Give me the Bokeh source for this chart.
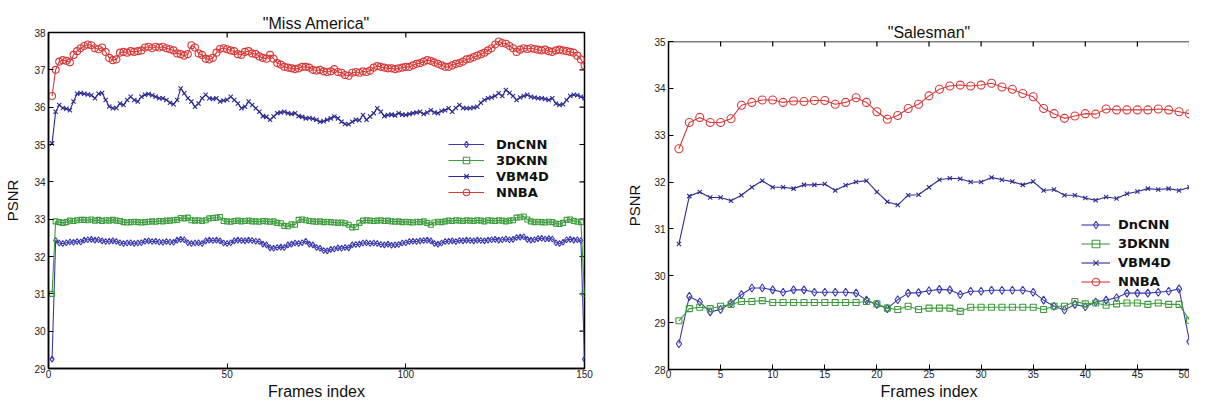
import math
from bokeh.plotting import figure
from bokeh.models import Range1d, FixedTicker, Legend, LegendItem, Span, Spacer, Title
from bokeh.layouts import row, column
from bokeh.embed import file_html
from bokeh.resources import INLINE

# ---------------- data: "Miss America" ----------------
ma_frames = list(range(1, 151))
ma_dncnn = [29.25, 32.43, 32.36, 32.35, 32.37, 32.39, 32.38, 32.40, 32.39, 32.44,
            32.45, 32.46, 32.44, 32.45, 32.42, 32.40, 32.41, 32.42, 32.40, 32.37,
            32.35, 32.36, 32.37, 32.35, 32.36, 32.37, 32.41, 32.42, 32.40, 32.41,
            32.39, 32.38, 32.40, 32.39, 32.38, 32.44, 32.46, 32.45, 32.37, 32.35,
            32.36, 32.37, 32.35, 32.42, 32.44, 32.43, 32.44, 32.42, 32.36, 32.35,
            32.37, 32.42, 32.44, 32.43, 32.42, 32.44, 32.43, 32.41, 32.40, 32.33,
            32.31, 32.23, 32.22, 32.24, 32.25, 32.24, 32.31, 32.33, 32.36, 32.35,
            32.37, 32.41, 32.33, 32.31, 32.24, 32.22, 32.16, 32.15, 32.19, 32.20,
            32.23, 32.22, 32.24, 32.23, 32.31, 32.32, 32.33, 32.36, 32.37, 32.35,
            32.36, 32.35, 32.32, 32.31, 32.33, 32.30, 32.31, 32.32, 32.36, 32.37,
            32.40, 32.41, 32.40, 32.42, 32.43, 32.44, 32.42, 32.35, 32.33, 32.36,
            32.40, 32.41, 32.42, 32.40, 32.43, 32.42, 32.44, 32.43, 32.42, 32.44,
            32.43, 32.42, 32.44, 32.45, 32.46, 32.44, 32.45, 32.47, 32.45, 32.46,
            32.51, 32.52, 32.53, 32.46, 32.44, 32.45, 32.48, 32.49, 32.47, 32.48,
            32.47, 32.37, 32.35, 32.38, 32.45, 32.46, 32.44, 32.45, 32.43, 29.25]
ma_3dknn = [31.00, 32.94, 32.92, 32.90, 32.92, 32.96, 32.95, 32.97, 32.98, 32.98,
            32.97, 32.99, 32.96, 32.98, 32.95, 32.97, 32.96, 32.98, 32.96, 32.95,
            32.92, 32.91, 32.92, 32.93, 32.92, 32.91, 32.92, 32.93, 32.94, 32.93,
            32.95, 32.94, 32.96, 32.96, 32.97, 32.98, 33.03, 33.02, 33.04, 32.97,
            32.96, 32.97, 32.95, 32.97, 33.02, 33.03, 33.04, 33.06, 32.95, 32.94,
            32.93, 32.95, 32.96, 32.94, 32.95, 32.96, 32.94, 32.94, 32.93, 32.95,
            32.94, 32.93, 32.94, 32.90, 32.89, 32.82, 32.81, 32.86, 32.85, 32.98,
            32.99, 32.97, 32.95, 32.94, 32.93, 32.94, 32.92, 32.93, 32.92, 32.91,
            32.90, 32.91, 32.89, 32.85, 32.78, 32.79, 32.90, 32.96, 32.97, 32.96,
            32.95, 32.96, 32.97, 32.95, 32.96, 32.94, 32.93, 32.94, 32.92, 32.93,
            32.92, 32.91, 32.93, 32.92, 32.94, 32.90, 32.85, 32.91, 32.93, 32.92,
            32.94, 32.96, 32.95, 32.97, 32.96, 32.95, 32.97, 32.96, 32.95, 32.97,
            32.96, 32.94, 32.97, 32.96, 32.95, 32.97, 32.96, 32.94, 32.96, 32.97,
            33.04, 33.05, 33.07, 32.99, 32.94, 32.92, 32.93, 32.92, 32.91, 32.93,
            32.92, 32.88, 32.87, 32.90, 32.98, 32.99, 32.95, 32.93, 32.92, 31.00]
ma_vbm4d = [35.03, 35.88, 36.06, 35.98, 35.96, 35.92, 36.15, 36.36, 36.38, 36.36,
            36.34, 36.32, 36.24, 36.36, 36.38, 36.19, 36.02, 35.97, 35.98, 36.10,
            36.06, 36.19, 36.28, 36.19, 36.15, 36.28, 36.33, 36.35, 36.32, 36.28,
            36.24, 36.24, 36.19, 36.12, 36.08, 36.19, 36.50, 36.37, 36.24, 36.15,
            36.01, 36.10, 36.24, 36.33, 36.24, 36.22, 36.24, 36.15, 36.18, 36.20,
            36.28, 36.19, 36.10, 35.97, 36.01, 36.15, 36.06, 35.97, 35.88, 35.76,
            35.74, 35.66, 35.75, 35.84, 35.86, 35.88, 35.84, 35.82, 35.84, 35.76,
            35.74, 35.70, 35.71, 35.69, 35.66, 35.61, 35.62, 35.66, 35.70, 35.75,
            35.70, 35.61, 35.55, 35.54, 35.61, 35.66, 35.65, 35.79, 35.66, 35.75,
            35.84, 35.97, 35.88, 35.76, 35.79, 35.80, 35.78, 35.84, 35.80, 35.79,
            35.82, 35.84, 35.86, 35.88, 35.82, 35.86, 35.92, 35.86, 35.84, 35.90,
            35.92, 35.97, 35.88, 35.98, 36.06, 35.98, 35.97, 35.97, 35.99, 36.01,
            36.12, 36.19, 36.24, 36.26, 36.30, 36.37, 36.30, 36.46, 36.38, 36.30,
            36.19, 36.26, 36.30, 36.33, 36.28, 36.26, 36.24, 36.24, 36.22, 36.19,
            36.24, 36.10, 36.06, 36.08, 36.19, 36.30, 36.33, 36.32, 36.28, 36.24]
ma_nnba = [36.30, 37.00, 37.22, 37.26, 37.24, 37.20, 37.40, 37.50, 37.58, 37.64,
           37.68, 37.66, 37.58, 37.55, 37.60, 37.48, 37.32, 37.26, 37.28, 37.46,
           37.48, 37.46, 37.50, 37.48, 37.50, 37.52, 37.60, 37.62, 37.58, 37.62,
           37.60, 37.62, 37.58, 37.55, 37.52, 37.44, 37.42, 37.38, 37.42, 37.66,
           37.60, 37.44, 37.40, 37.30, 37.28, 37.32, 37.46, 37.56, 37.58, 37.55,
           37.52, 37.50, 37.42, 37.40, 37.48, 37.50, 37.44, 37.42, 37.36, 37.32,
           37.30, 37.40, 37.30, 37.18, 37.14, 37.08, 37.06, 37.04, 37.02, 37.04,
           37.08, 37.08, 37.06, 37.00, 36.98, 37.00, 36.96, 36.94, 36.96, 37.02,
           36.94, 36.92, 36.86, 36.84, 36.92, 36.94, 36.92, 36.96, 36.94, 36.98,
           37.06, 37.10, 37.08, 37.06, 37.04, 37.04, 37.02, 37.04, 37.06, 37.08,
           37.08, 37.12, 37.16, 37.18, 37.22, 37.26, 37.24, 37.20, 37.16, 37.12,
           37.08, 37.08, 37.12, 37.16, 37.18, 37.22, 37.28, 37.30, 37.34, 37.38,
           37.42, 37.46, 37.52, 37.58, 37.68, 37.76, 37.72, 37.70, 37.64, 37.58,
           37.48, 37.54, 37.58, 37.56, 37.58, 37.56, 37.54, 37.52, 37.54, 37.50,
           37.48, 37.52, 37.54, 37.52, 37.50, 37.48, 37.46, 37.38, 37.28, 37.12]

# ---------------- data: "Salesman" ----------------
sm_frames = list(range(1, 51))
sm_dncnn = [28.55, 29.56, 29.44, 29.23, 29.28, 29.42, 29.60, 29.74, 29.74, 29.70,
            29.65, 29.70, 29.70, 29.65, 29.65, 29.65, 29.65, 29.63, 29.48, 29.39,
            29.30, 29.49, 29.63, 29.64, 29.68, 29.71, 29.70, 29.60, 29.67, 29.67,
            29.69, 29.69, 29.69, 29.69, 29.65, 29.48, 29.35, 29.27, 29.39, 29.34,
            29.44, 29.48, 29.53, 29.63, 29.63, 29.63, 29.65, 29.67, 29.72, 28.60]
sm_3dknn = [29.04, 29.30, 29.33, 29.30, 29.35, 29.39, 29.45, 29.45, 29.47, 29.43,
            29.43, 29.43, 29.43, 29.43, 29.43, 29.43, 29.43, 29.43, 29.45, 29.40,
            29.31, 29.28, 29.35, 29.28, 29.31, 29.31, 29.31, 29.24, 29.33, 29.33,
            29.33, 29.33, 29.33, 29.33, 29.33, 29.28, 29.35, 29.35, 29.45, 29.40,
            29.42, 29.37, 29.40, 29.42, 29.42, 29.39, 29.42, 29.39, 29.39, 29.05]
sm_vbm4d = [30.68, 31.70, 31.79, 31.67, 31.67, 31.60, 31.72, 31.89, 32.03, 31.89,
            31.89, 31.86, 31.94, 31.94, 31.96, 31.82, 31.93, 32.00, 32.03, 31.79,
            31.58, 31.51, 31.72, 31.73, 31.89, 32.05, 32.08, 32.07, 32.00, 32.00,
            32.10, 32.05, 32.01, 31.94, 32.01, 31.82, 31.84, 31.72, 31.72, 31.66,
            31.61, 31.68, 31.65, 31.75, 31.80, 31.86, 31.84, 31.86, 31.82, 31.89]
sm_nnba = [32.71, 33.27, 33.38, 33.27, 33.27, 33.35, 33.64, 33.70, 33.75, 33.75,
           33.70, 33.73, 33.72, 33.74, 33.74, 33.66, 33.70, 33.80, 33.70, 33.50,
           33.34, 33.42, 33.57, 33.66, 33.84, 33.98, 34.05, 34.07, 34.05, 34.07,
           34.11, 34.03, 33.98, 33.89, 33.82, 33.57, 33.46, 33.36, 33.41, 33.46,
           33.45, 33.56, 33.54, 33.54, 33.54, 33.54, 33.56, 33.54, 33.50, 33.46]

series_names = ["DnCNN", "3DKNN", "VBM4D", "NNBA"]
ma_xticks = [0, 50, 100, 150]
ma_yticks = [29, 30, 31, 32, 33, 34, 35, 36, 37, 38]
sm_xticks = [0, 5, 10, 15, 20, 25, 30, 35, 40, 45, 50]
sm_yticks = [28, 29, 30, 31, 32, 33, 34, 35]

# ---------------- styles ----------------
STY = {
    "DnCNN": dict(color="#3a3aae", marker="diamond"),
    "3DKNN": dict(color="#3e9c3e", marker="square"),
    "VBM4D": dict(color="#2c2c92", marker="x"),
    "NNBA":  dict(color="#d83a3a", marker="circle"),
}
FONT = "Liberation Sans"


def style_axis(ax):
    ax.major_tick_in = 5
    ax.major_tick_out = 0
    ax.minor_tick_line_color = None
    ax.axis_line_color = "black"
    ax.axis_line_width = 1.5
    ax.major_tick_line_color = "black"
    ax.major_label_text_font = FONT
    ax.major_label_text_font_size = "10px"
    ax.major_label_text_color = "#222222"
    ax.axis_label_text_font = FONT
    ax.axis_label_text_font_style = "normal"
    ax.axis_label_text_color = "#111111"


def make_plot(title, frames, data, xr, yr, xticks, yticks, width, height,
              left_border, right_border, sizes, legend_loc, leg_row, leg_glyph_w,
              leg_standoff, right_ticks=True, outline=True, ylabel_pad=8,
              xlab_line_height=1.2, xtick_pad=1):
    p = figure(width=width, height=height, output_backend="svg",
               toolbar_location=None, x_range=Range1d(*xr), y_range=Range1d(*yr),
               min_border_left=left_border, min_border_right=right_border,
               min_border_top=0, min_border_bottom=0)
    p.xgrid.visible = False
    p.ygrid.visible = False
    p.background_fill_color = "white"
    p.border_fill_color = "white"
    p.outline_line_color = "black" if outline else None
    p.outline_line_width = 1.5

    p.title.text = title
    p.title.align = "center"
    p.title.text_font = FONT
    p.title.text_font_size = "16px"
    p.title.text_font_style = "normal"
    p.title.text_color = "#111111"
    p.title.standoff = 2

    xa = p.xaxis[0]
    ya = p.yaxis[0]
    xa.ticker = FixedTicker(ticks=xticks)
    ya.ticker = FixedTicker(ticks=yticks)
    style_axis(xa)
    style_axis(ya)
    xa.major_label_standoff = xtick_pad
    ya.major_label_standoff = 3
    ya.axis_label = "PSNR"
    ya.axis_label_text_font_size = "15px"
    ya.axis_label_standoff = ylabel_pad

    xlab = Title(text="Frames index", align="center", text_font=FONT,
                 text_font_size="16px", text_font_style="normal",
                 text_color="#111111", standoff=0,
                 text_line_height=xlab_line_height)
    p.add_layout(xlab, "below")

    # inward tick marks on the top (and right) edges of the box
    p.scatter(xticks, [yr[1]] * len(xticks), marker="dash", angle=math.pi / 2,
              size=10, line_color="black", line_width=1.2)
    if right_ticks:
        p.scatter([xr[1]] * len(yticks), yticks, marker="dash",
                  size=10, line_color="black", line_width=1.2)
    if not outline:
        p.add_layout(Span(location=yr[1], dimension="width",
                          line_color="black", line_width=1.5))

    items = []
    for name, ys in zip(series_names, data):
        s = STY[name]
        ln = p.line(frames, ys, line_color=s["color"], line_width=1.1)
        sc = p.scatter(frames, ys, marker=s["marker"], size=sizes[name],
                       line_color=s["color"], fill_color=None, line_width=1.1)
        items.append(LegendItem(label=name, renderers=[ln, sc]))

    leg = Legend(items=items, location=legend_loc, border_line_color=None,
                 background_fill_alpha=0, padding=0, margin=0, spacing=0,
                 label_height=leg_row, glyph_height=leg_row,
                 glyph_width=leg_glyph_w, label_standoff=leg_standoff,
                 label_text_font="DejaVu Sans", label_text_font_style="bold",
                 label_text_font_size="13px", label_text_color="#111111")
    p.add_layout(leg)
    return p


p1 = make_plot('"Miss America"', ma_frames, [ma_dncnn, ma_3dknn, ma_vbm4d, ma_nnba],
               (0, 150), (29, 38), ma_xticks, ma_yticks, 600, 388, 48, 16,
               {"DnCNN": 6, "3DKNN": 5, "VBM4D": 6, "NNBA": 7},
               (400, 168), 16, 36, 12, ylabel_pad=10)

p2 = make_plot('"Salesman"', sm_frames, [sm_dncnn, sm_3dknn, sm_vbm4d, sm_nnba],
               (0, 50), (28, 35), sm_xticks, sm_yticks, 589, 379, 68, 0,
               {"DnCNN": 8, "3DKNN": 6, "VBM4D": 6, "NNBA": 8},
               (413, 78), 19, 29, 8, right_ticks=False, outline=False,
               ylabel_pad=8, xlab_line_height=0.8, xtick_pad=0)

layout = row(column(Spacer(height=11), p1), column(Spacer(height=20), p2))
open("out.html", "w").write(file_html(layout, INLINE))
